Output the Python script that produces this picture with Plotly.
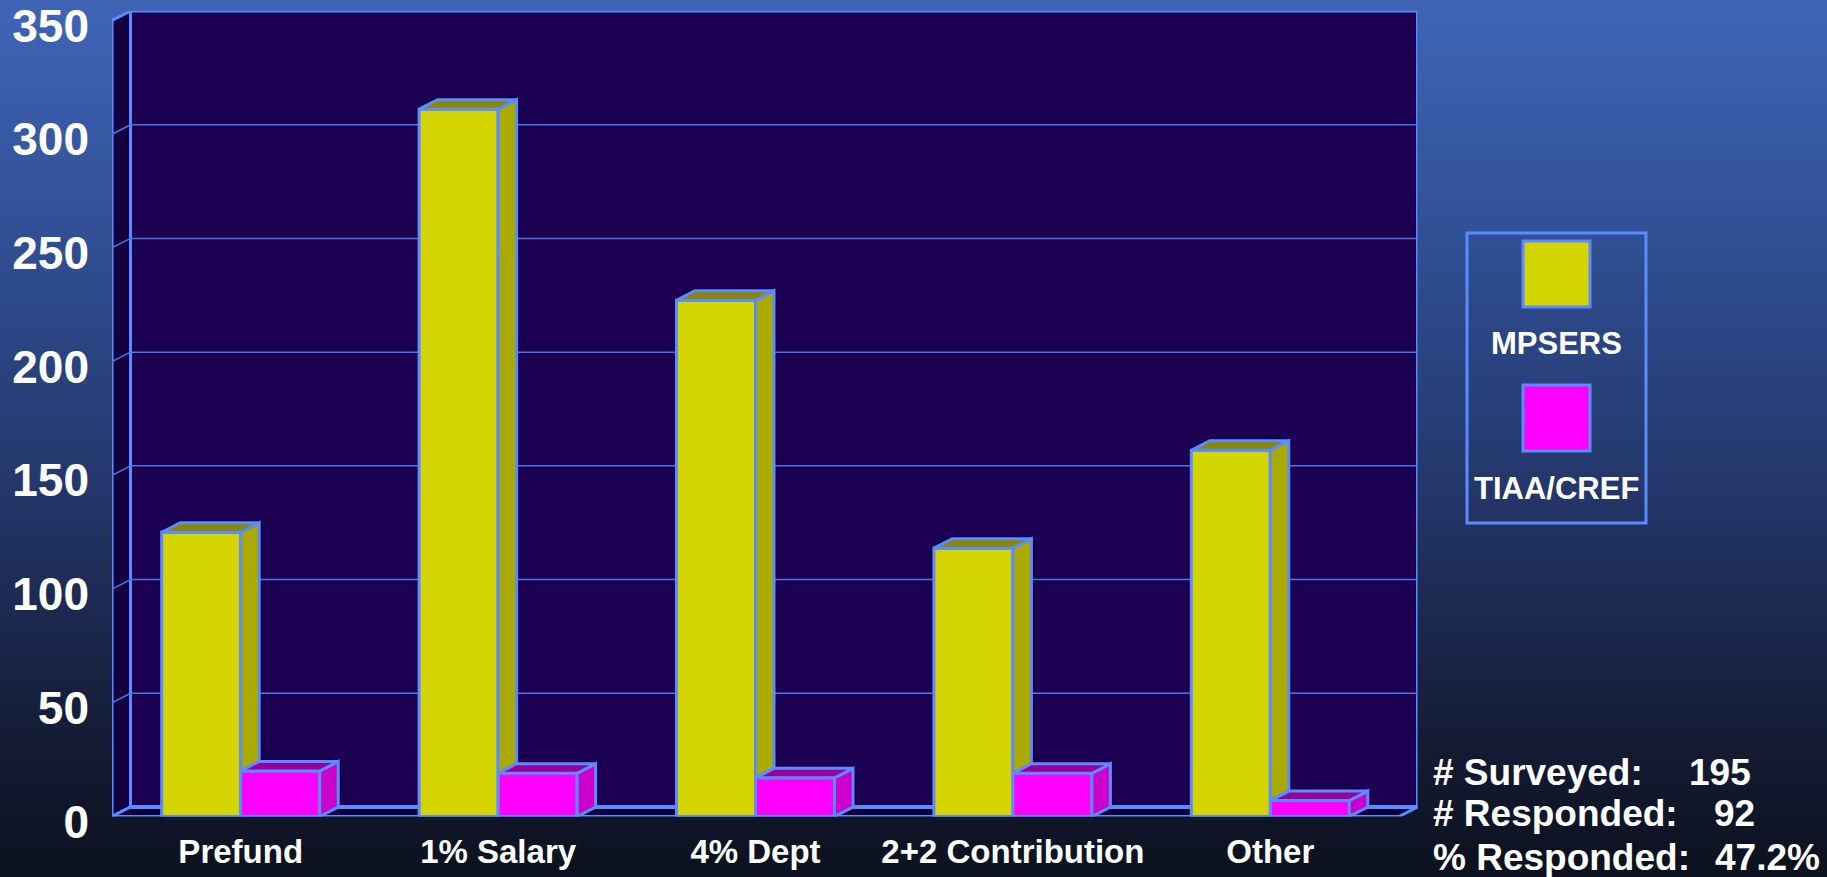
import plotly.graph_objects as go

# ---------------- data ----------------
categories = ["Prefund", "1% Salary", "4% Dept", "2+2 Contribution", "Other"]
series_names = ["MPSERS", "TIAA/CREF"]
mpsers = [125, 311, 227, 118, 161]
tiaa = [20, 19, 17, 19, 7]
y_ticks = [0, 50, 100, 150, 200, 250, 300, 350]
survey_labels = ["# Surveyed:", "# Responded:", "% Responded:"]
survey_values = ["195", "92", "47.2%"]

# ---------------- styles / geometry ----------------
W, H = 1827, 877
FX0, FX1 = 112, 1399          # front plane left / right (px)
FY0 = 816.5                   # front floor (px)
BY0, BY350 = 807, 11          # back wall 0 / 350 (px)
DXp, DYp = 18.5, 9.5          # depth offset (px)
YMAX = 350
ncat = len(categories)
px_per_cat = (FX1 - FX0) / ncat
px_per_unit = (BY0 - BY350) / YMAX
dxd = DXp / px_per_cat
dyd = DYp / px_per_unit
bar_w = 79 / px_per_cat

OUTLINE = "#5b8cff"
GRID = "#4d74e6"
WALL_BACK = "#1b0052"
WALL_SIDE = "#13003f"
FLOOR = "#10003a"
front_cols = ["#d4d400", "#ff00ff"]
side_cols = ["#aaaa00", "#cc00cc"]
top_cols = ["#878700", "#990099"]
FONT = "Arial, Liberation Sans, sans-serif"

def px(x):
    return x / W

def py(y):
    return 1 - y / H

fig = go.Figure()

# background gradient
stops = [(0.0, (64, 101, 183)), (0.33, (45, 74, 140)), (0.57, (35, 54, 104)),
         (0.8, (22, 31, 60)), (1.0, (12, 17, 30))]

def grad(t):
    for (t0, c0), (t1, c1) in zip(stops[:-1], stops[1:]):
        if t0 <= t <= t1:
            f = (t - t0) / (t1 - t0)
            return "rgb(%d,%d,%d)" % tuple(round(a + (b - a) * f) for a, b in zip(c0, c1))
    return "rgb(%d,%d,%d)" % stops[-1][1]

N = 110
shapes = []
for k in range(N):
    t0, t1 = k / N, (k + 1) / N
    shapes.append(dict(type="rect", xref="paper", yref="paper", x0=0, x1=1,
                       y0=1 - t1 - 0.002, y1=1 - t0, fillcolor=grad((t0 + t1) / 2),
                       line=dict(width=0), layer="below"))

xl, xr_ = -0.5, ncat - 0.5
# left side wall
shapes.append(dict(type="path", xref="x", yref="y", layer="below",
                   path=f"M{xl},0 L{xl+dxd},{dyd} L{xl+dxd},{YMAX+dyd} L{xl},{YMAX} Z",
                   fillcolor=WALL_SIDE, line=dict(color=OUTLINE, width=3)))
# floor
shapes.append(dict(type="path", xref="x", yref="y", layer="below",
                   path=f"M{xl},0 L{xr_},0 L{xr_+dxd},{dyd} L{xl+dxd},{dyd} Z",
                   fillcolor=FLOOR, line=dict(color=OUTLINE, width=3)))
# back wall
shapes.append(dict(type="rect", xref="x", yref="y", layer="below",
                   x0=xl + dxd, x1=xr_ + dxd, y0=dyd, y1=YMAX + dyd,
                   fillcolor=WALL_BACK, line=dict(color=OUTLINE, width=3)))
# gridlines
for v in y_ticks[1:-1]:
    shapes.append(dict(type="line", xref="x", yref="y", layer="below",
                       x0=xl + dxd, x1=xr_ + dxd, y0=v + dyd, y1=v + dyd,
                       line=dict(color=GRID, width=1.5)))
    shapes.append(dict(type="line", xref="x", yref="y", layer="below",
                       x0=xl, x1=xl + dxd, y0=v, y1=v + dyd,
                       line=dict(color=GRID, width=1.5)))
# re-stroke back floor edge
shapes.append(dict(type="line", xref="x", yref="y", layer="below",
                   x0=xl + dxd, x1=xr_ + dxd, y0=dyd, y1=dyd,
                   line=dict(color=OUTLINE, width=4)))

# front faces (bars)
series_vals = [mpsers, tiaa]
offsets = [-bar_w, 0.0]
for s in range(2):
    fig.add_trace(go.Bar(x=list(range(ncat)), y=series_vals[s], width=bar_w,
                         offset=offsets[s], name=series_names[s],
                         marker=dict(color=front_cols[s], line=dict(color=OUTLINE, width=3)),
                         hoverinfo="skip", showlegend=False))

# side & top faces
for s in range(2):
    sx, sy, tx, ty = [], [], [], []
    for i in range(ncat):
        v = series_vals[s][i]
        left = i + offsets[s]
        right = left + bar_w
        lower = series_vals[1][i] if s == 0 else 0
        sx += [right, right, right + dxd, right + dxd, right, None]
        sy += [lower, v, v + dyd, lower + dyd, lower, None]
        tx += [left, right, right + dxd, left + dxd, left, None]
        ty += [v, v, v + dyd, v + dyd, v, None]
    fig.add_trace(go.Scatter(x=sx, y=sy, mode="lines", fill="toself", fillcolor=side_cols[s],
                             line=dict(color=OUTLINE, width=3), hoverinfo="skip", showlegend=False))
    fig.add_trace(go.Scatter(x=tx, y=ty, mode="lines", fill="toself", fillcolor=top_cols[s],
                             line=dict(color=OUTLINE, width=3), hoverinfo="skip", showlegend=False))

# legend box (manual)
annotations = []
shapes.append(dict(type="rect", xref="paper", yref="paper", x0=px(1467), x1=px(1646),
                   y0=py(523), y1=py(233), line=dict(color=OUTLINE, width=3)))
sw_top = [241, 385]
lab_y = [343, 488]
for s in range(2):
    shapes.append(dict(type="rect", xref="paper", yref="paper", x0=px(1523), x1=px(1590),
                       y0=py(sw_top[s] + 66), y1=py(sw_top[s]), fillcolor=front_cols[s],
                       line=dict(color=OUTLINE, width=3)))
    annotations.append(dict(xref="paper", yref="paper", x=px(1556), y=py(lab_y[s]),
                            text=series_names[s], showarrow=False, xanchor="center", yanchor="middle",
                            font=dict(family=FONT, size=31, color="white", weight="bold")))

# survey stats
stat_y = [772, 813, 857]
val_x = [1687, 1712, 1713]
for k in range(3):
    annotations.append(dict(xref="paper", yref="paper", x=px(1431), y=py(stat_y[k]),
                            text=survey_labels[k], showarrow=False, xanchor="left", yanchor="middle",
                            font=dict(family=FONT, size=37, color="white", weight="bold")))
    annotations.append(dict(xref="paper", yref="paper", x=px(val_x[k]), y=py(stat_y[k]),
                            text=survey_values[k], showarrow=False, xanchor="left", yanchor="middle",
                            font=dict(family=FONT, size=37, color="white", weight="bold")))

fig.update_layout(
    width=W, height=H, template="none",
    margin=dict(l=0, r=0, t=0, b=0, pad=0),
    paper_bgcolor="#0c111e", plot_bgcolor="rgba(0,0,0,0)",
    barmode="overlay", showlegend=False,
    shapes=shapes, annotations=annotations,
    xaxis=dict(domain=[px(FX0), px(FX1 + DXp)], range=[xl, xr_ + dxd],
               tickmode="array", tickvals=list(range(ncat)), ticktext=categories,
               showgrid=False, zeroline=False, showline=False, ticks="",
               ticklabelstandoff=12, automargin=False, ticklabeloverflow="allow",
               tickfont=dict(family=FONT, size=33, color="white", weight="bold")),
    yaxis=dict(domain=[py(FY0), py(FY0 - (YMAX + dyd) * px_per_unit)], range=[0, YMAX + dyd],
               tickmode="array", tickvals=y_ticks, ticktext=[str(v) for v in y_ticks],
               showgrid=False, zeroline=False, showline=False, ticks="",
               ticklabelstandoff=22, ticklabelshift=5, automargin=False, ticklabeloverflow="allow",
               tickfont=dict(family=FONT, size=46, color="white", weight="bold")),
)

fig.write_html("out.html", config={"displayModeBar": False},
               post_script="document.body.style.margin='0';document.body.style.overflow='hidden';")
